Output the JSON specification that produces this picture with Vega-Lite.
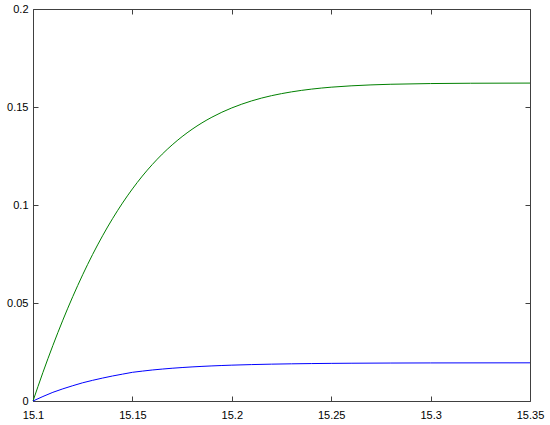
{
  "$schema": "https://vega.github.io/schema/vega-lite/v6.json",
  "width": 497,
  "height": 392,
  "autosize": {"type": "none"},
  "padding": {"left": 33, "top": 9, "right": 20, "bottom": 24},
  "background": "white",
  "config": {
    "view": {"stroke": "#404040", "strokeWidth": 1},
    "axis": {
      "domain": false,
      "grid": false,
      "tickSize": -5,
      "tickColor": "#404040",
      "labelFont": "Liberation Sans",
      "labelFontSize": 11,
      "labelColor": "black",
      "title": null
    }
  },
  "data": {
    "values": [
      {"t": 15.100, "s": "green", "v": 0},
      {"t": 15.105, "s": "green", "v": 0.01460},
      {"t": 15.110, "s": "green", "v": 0.02834},
      {"t": 15.115, "s": "green", "v": 0.04123},
      {"t": 15.120, "s": "green", "v": 0.05325},
      {"t": 15.125, "s": "green", "v": 0.06443},
      {"t": 15.130, "s": "green", "v": 0.07478},
      {"t": 15.135, "s": "green", "v": 0.08430},
      {"t": 15.140, "s": "green", "v": 0.09301},
      {"t": 15.145, "s": "green", "v": 0.10097},
      {"t": 15.150, "s": "green", "v": 0.10820},
      {"t": 15.155, "s": "green", "v": 0.11476},
      {"t": 15.160, "s": "green", "v": 0.12064},
      {"t": 15.165, "s": "green", "v": 0.12595},
      {"t": 15.170, "s": "green", "v": 0.13067},
      {"t": 15.175, "s": "green", "v": 0.13489},
      {"t": 15.180, "s": "green", "v": 0.13862},
      {"t": 15.185, "s": "green", "v": 0.14191},
      {"t": 15.190, "s": "green", "v": 0.14480},
      {"t": 15.195, "s": "green", "v": 0.14733},
      {"t": 15.200, "s": "green", "v": 0.14953},
      {"t": 15.210, "s": "green", "v": 0.15312},
      {"t": 15.220, "s": "green", "v": 0.15578},
      {"t": 15.230, "s": "green", "v": 0.15771},
      {"t": 15.240, "s": "green", "v": 0.15912},
      {"t": 15.250, "s": "green", "v": 0.16011},
      {"t": 15.260, "s": "green", "v": 0.16080},
      {"t": 15.270, "s": "green", "v": 0.16128},
      {"t": 15.280, "s": "green", "v": 0.16160},
      {"t": 15.300, "s": "green", "v": 0.16196},
      {"t": 15.320, "s": "green", "v": 0.16212},
      {"t": 15.350, "s": "green", "v": 0.16220},
      {"t": 15.100, "s": "blue", "v": 0},
      {"t": 15.105, "s": "blue", "v": 0.00230},
      {"t": 15.110, "s": "blue", "v": 0.00443},
      {"t": 15.115, "s": "blue", "v": 0.00620},
      {"t": 15.120, "s": "blue", "v": 0.00780},
      {"t": 15.125, "s": "blue", "v": 0.00930},
      {"t": 15.130, "s": "blue", "v": 0.01055},
      {"t": 15.135, "s": "blue", "v": 0.01170},
      {"t": 15.140, "s": "blue", "v": 0.01276},
      {"t": 15.145, "s": "blue", "v": 0.01370},
      {"t": 15.150, "s": "blue", "v": 0.01463},
      {"t": 15.155, "s": "blue", "v": 0.01525},
      {"t": 15.160, "s": "blue", "v": 0.01582},
      {"t": 15.165, "s": "blue", "v": 0.01629},
      {"t": 15.170, "s": "blue", "v": 0.01671},
      {"t": 15.175, "s": "blue", "v": 0.01707},
      {"t": 15.180, "s": "blue", "v": 0.01739},
      {"t": 15.185, "s": "blue", "v": 0.01766},
      {"t": 15.190, "s": "blue", "v": 0.01790},
      {"t": 15.195, "s": "blue", "v": 0.01811},
      {"t": 15.200, "s": "blue", "v": 0.01829},
      {"t": 15.210, "s": "blue", "v": 0.01858},
      {"t": 15.220, "s": "blue", "v": 0.01880},
      {"t": 15.230, "s": "blue", "v": 0.01897},
      {"t": 15.240, "s": "blue", "v": 0.01910},
      {"t": 15.250, "s": "blue", "v": 0.01920},
      {"t": 15.260, "s": "blue", "v": 0.01927},
      {"t": 15.280, "s": "blue", "v": 0.01937},
      {"t": 15.300, "s": "blue", "v": 0.01942},
      {"t": 15.350, "s": "blue", "v": 0.01948}
    ]
  },
  "resolve": {"axis": {"x": "independent", "y": "independent"}},
  "layer": [
    {
      "mark": {"type": "line", "interpolate": "monotone", "strokeWidth": 1},
      "encoding": {
        "x": {"field": "t", "type": "quantitative",
              "scale": {"domain": [15.1, 15.35], "nice": false, "zero": false},
              "axis": {"orient": "bottom", "values": [15.1, 15.15, 15.2, 15.25, 15.3, 15.35], "format": ".4~f", "labelPadding": 13, "labelFlush": false}},
        "y": {"field": "v", "type": "quantitative",
              "scale": {"domain": [0, 0.2], "nice": false},
              "axis": {"orient": "left", "values": [0, 0.05, 0.1, 0.15, 0.2], "format": ".2~f", "labelPadding": 10, "labelFlush": false}},
        "color": {"field": "s", "type": "nominal",
                  "scale": {"domain": ["green", "blue"], "range": ["#008000", "#0000ff"]},
                  "legend": null}
      }
    },
    {
      "mark": {"type": "line", "interpolate": "monotone", "strokeWidth": 1, "opacity": 0},
      "encoding": {
        "x": {"field": "t", "type": "quantitative",
              "axis": {"orient": "top", "values": [15.1, 15.15, 15.2, 15.25, 15.3, 15.35], "labels": false}},
        "y": {"field": "v", "type": "quantitative",
              "axis": {"orient": "right", "values": [0, 0.05, 0.1, 0.15, 0.2], "labels": false}},
        "detail": {"field": "s", "type": "nominal"}
      }
    }
  ]
}
